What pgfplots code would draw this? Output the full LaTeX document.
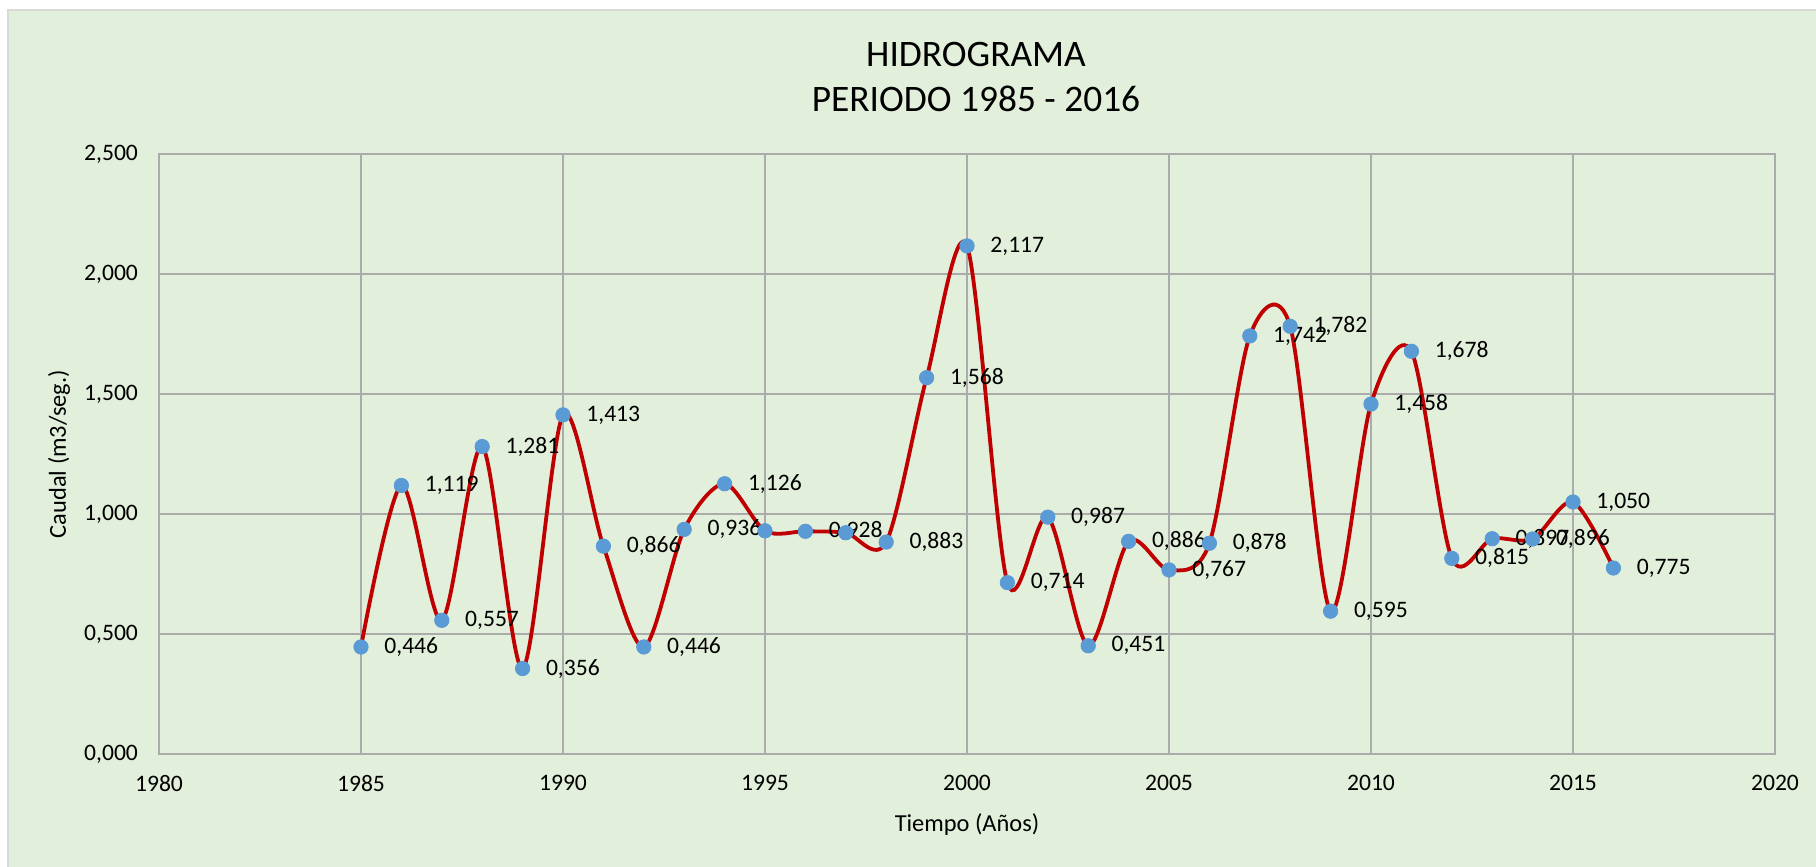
\documentclass[border=0pt]{standalone}
\usepackage{pgfplots}
\pgfplotsset{compat=1.18}
\usepackage{pgfplotstable}
\usepackage{fontspec}
\setmainfont{Carlito}
\definecolor{bgc}{HTML}{E2EFDA}
\definecolor{brd}{HTML}{D9D9D9}
\definecolor{gridc}{HTML}{ABABAB}
\definecolor{linec}{HTML}{C00000}
\definecolor{markc}{HTML}{5B9BD5}
\pgfplotstableread{
x y lab
1985 0.446 0,446
1986 1.119 1,119
1987 0.557 0,557
1988 1.281 1,281
1989 0.356 0,356
1990 1.413 1,413
1991 0.866 0,866
1992 0.446 0,446
1993 0.936 0,936
1994 1.126 1,126
1995 0.930 {}
1996 0.928 0,928
1997 0.922 {}
1998 0.883 0,883
1999 1.568 1,568
2000 2.117 2,117
2001 0.714 0,714
2002 0.987 0,987
2003 0.451 0,451
2004 0.886 0,886
2005 0.767 0,767
2006 0.878 0,878
2007 1.742 1,742
2008 1.782 1,782
2009 0.595 0,595
2010 1.458 1,458
2011 1.678 1,678
2012 0.815 0,815
2013 0.897 0,897
2014 0.896 0,896
2015 1.050 1,050
2016 0.775 0,775
}\datatable
\begin{document}
\begin{tikzpicture}
\path[use as bounding box] (0,0) rectangle (908pt,433.5pt);
\fill[white] (0,0) rectangle (908pt,433.5pt);
\fill[bgc] (4pt,-2pt) rectangle (912pt,428.5pt);
\draw[brd, line width=1pt] (4pt,-2pt) -- (4pt,428.5pt) -- (912pt,428.5pt);
\begin{axis}[
  at={(79.5pt,56.5pt)}, anchor=south west,
  scale only axis, width=808pt, height=300pt,
  xmin=1980, xmax=2020, ymin=0, ymax=2.5,
  xtick distance=5, ytick distance=0.5,
  grid=major,
  major grid style={gridc, line width=1pt},
  axis line style={gridc, line width=1pt},
  major tick length=0pt,
  clip=false,
  /pgf/number format/assume math mode=true,
  xticklabel style={/pgf/number format/1000 sep={}, font=\fontsize{11.8}{14}\selectfont, yshift=-7pt},
  yticklabel style={/pgf/number format/.cd, fixed, fixed zerofill, precision=3, use comma, 1000 sep={}, /tikz/.cd, font=\fontsize{11.8}{14}\selectfont, xshift=-7pt},
  xlabel={Tiempo (Años)},
  ylabel={Caudal (m3/seg.)},
  xlabel style={at={(axis description cs:0.5,-0.1183)}, anchor=center, font=\fontsize{12.2}{14}\selectfont},
  ylabel style={at={(axis description cs:-0.0619,0.5)}, anchor=center, font=\fontsize{12.2}{14}\selectfont},
]
\addplot[linec, line width=1.9pt, smooth, tension=0.5, no marks] table[x=x, y=y] {\datatable};
\addplot[only marks, mark=*, mark size=3.6pt, mark options={fill=markc, draw=markc},
  nodes near coords, point meta=explicit symbolic,
  nodes near coords style={anchor=west, inner sep=0pt, xshift=11.5pt, font=\fontsize{11.8}{14}\selectfont, text=black}]
  table[x=x, y=y, meta=lab] {\datatable};
\end{axis}
\node[align=center, font=\fontsize{18.7}{22.7}\selectfont] at (488pt,395pt) {HIDROGRAMA\\PERIODO 1985 - 2016};
\end{tikzpicture}
\end{document}
